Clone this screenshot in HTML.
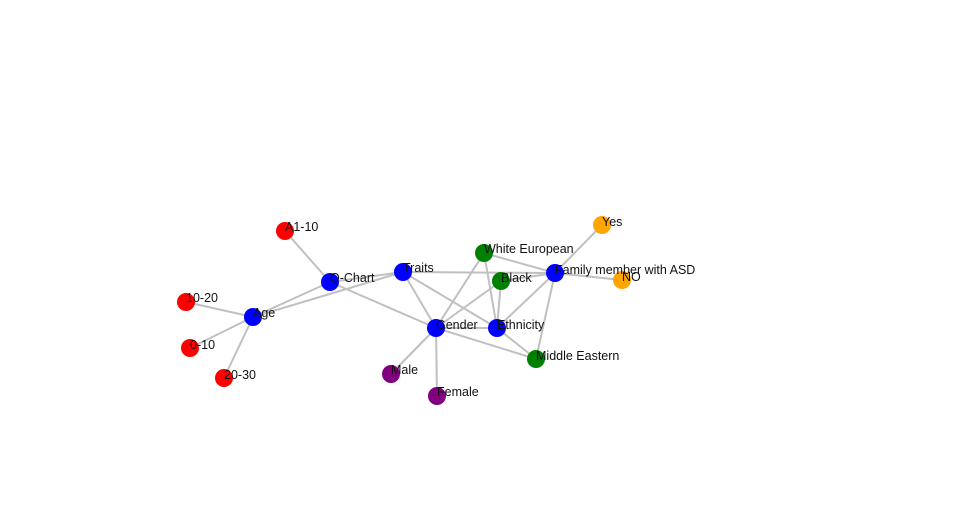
<!DOCTYPE html>
<html><head><meta charset="utf-8"><style>html,body{margin:0;padding:0;background:#fff}</style></head><body>
<svg width="960" height="500" xmlns="http://www.w3.org/2000/svg" font-family="Liberation Sans, DejaVu Sans, sans-serif" font-size="12.5">
<g stroke="#c0c0c0" stroke-width="2">
<line x1="285" y1="231" x2="330" y2="282"/>
<line x1="330" y1="282" x2="253" y2="317"/>
<line x1="330" y1="282" x2="403" y2="272"/>
<line x1="330" y1="282" x2="436" y2="328"/>
<line x1="253" y1="317" x2="403" y2="272"/>
<line x1="253" y1="317" x2="186" y2="302"/>
<line x1="253" y1="317" x2="190" y2="348"/>
<line x1="253" y1="317" x2="224" y2="378"/>
<line x1="403" y1="272" x2="555" y2="273"/>
<line x1="403" y1="272" x2="436" y2="328"/>
<line x1="403" y1="272" x2="497" y2="328"/>
<line x1="484" y1="253" x2="555" y2="273"/>
<line x1="484" y1="253" x2="436" y2="328"/>
<line x1="484" y1="253" x2="497" y2="328"/>
<line x1="501" y1="281" x2="555" y2="273"/>
<line x1="501" y1="281" x2="436" y2="328"/>
<line x1="501" y1="281" x2="497" y2="328"/>
<line x1="555" y1="273" x2="602" y2="225"/>
<line x1="555" y1="273" x2="622" y2="280"/>
<line x1="555" y1="273" x2="497" y2="328"/>
<line x1="555" y1="273" x2="536" y2="359"/>
<line x1="436" y1="328" x2="497" y2="328"/>
<line x1="436" y1="328" x2="536" y2="359"/>
<line x1="497" y1="328" x2="536" y2="359"/>
<line x1="436" y1="328" x2="391" y2="374"/>
<line x1="436" y1="328" x2="437" y2="396"/>
</g>
<g>
<circle cx="285" cy="231" r="9" fill="#f00"/>
<circle cx="186" cy="302" r="9" fill="#f00"/>
<circle cx="190" cy="348" r="9" fill="#f00"/>
<circle cx="224" cy="378" r="9" fill="#f00"/>
<circle cx="330" cy="282" r="9" fill="#00f"/>
<circle cx="253" cy="317" r="9" fill="#00f"/>
<circle cx="403" cy="272" r="9" fill="#00f"/>
<circle cx="555" cy="273" r="9" fill="#00f"/>
<circle cx="436" cy="328" r="9" fill="#00f"/>
<circle cx="497" cy="328" r="9" fill="#00f"/>
<circle cx="484" cy="253" r="9" fill="#008000"/>
<circle cx="501" cy="281" r="9" fill="#008000"/>
<circle cx="536" cy="359" r="9" fill="#008000"/>
<circle cx="602" cy="225" r="9" fill="#ffa500"/>
<circle cx="622" cy="280" r="9" fill="#ffa500"/>
<circle cx="391" cy="374" r="9" fill="#800080"/>
<circle cx="437" cy="396" r="9" fill="#800080"/>
</g>
<g fill="#111">
<text x="285" y="231">A1-10</text>
<text x="186" y="302">10-20</text>
<text x="190" y="349">0-10</text>
<text x="224" y="379">20-30</text>
<text x="330" y="282">Q-Chart</text>
<text x="253" y="317">Age</text>
<text x="403" y="272">Traits</text>
<text x="555" y="274">Family member with ASD</text>
<text x="436" y="329">Gender</text>
<text x="497" y="329">Ethnicity</text>
<text x="484" y="253">White European</text>
<text x="501" y="282">Black</text>
<text x="536" y="360">Middle Eastern</text>
<text x="602" y="226">Yes</text>
<text x="622" y="281">NO</text>
<text x="391" y="374">Male</text>
<text x="437" y="396">Female</text>
</g>
</svg>
</body></html>
